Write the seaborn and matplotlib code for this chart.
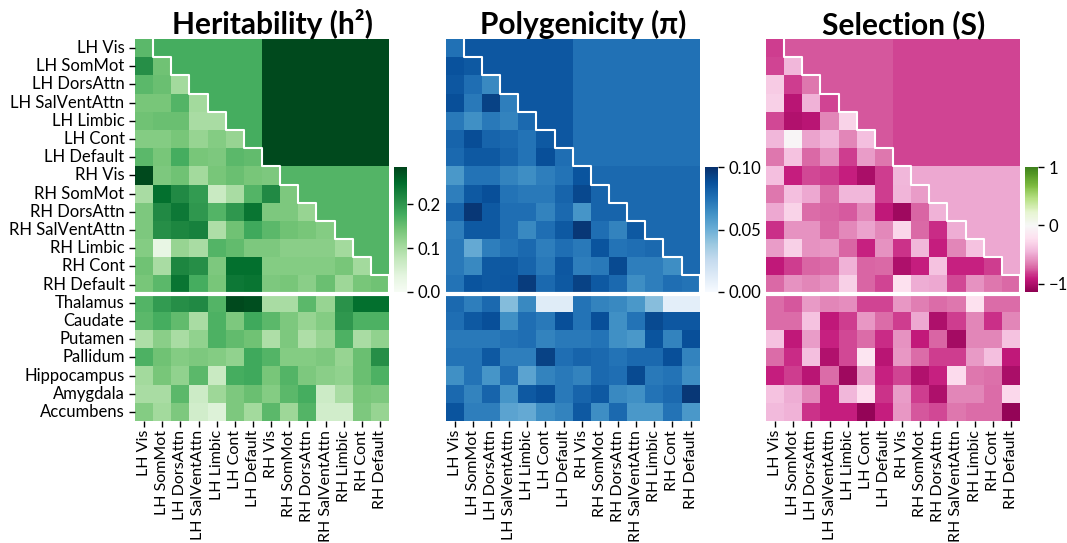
import numpy as np
import pandas as pd
import matplotlib
matplotlib.use("Agg")
import matplotlib.pyplot as plt
import seaborn as sns

plt.rcParams['font.family'] = ['Lato', 'DejaVu Sans']

networks = ['LH Vis', 'LH SomMot', 'LH DorsAttn', 'LH SalVentAttn', 'LH Limbic', 'LH Cont', 'LH Default',
            'RH Vis', 'RH SomMot', 'RH DorsAttn', 'RH SalVentAttn', 'RH Limbic', 'RH Cont', 'RH Default']
subcortex = ['Thalamus', 'Caudate', 'Putamen', 'Pallidum', 'Hippocampus', 'Amygdala', 'Accumbens']

# heritability: lower triangle of cortex x cortex (incl. diagonal)
h2_cortex = [
    [0.16],
    [0.21, 0.145],
    [0.16, 0.15, 0.105],
    [0.14, 0.14, 0.165, 0.105],
    [0.145, 0.15, 0.15, 0.10, 0.10],
    [0.13, 0.13, 0.14, 0.115, 0.13, 0.115],
    [0.16, 0.14, 0.175, 0.14, 0.135, 0.16, 0.155],
    [0.28, 0.135, 0.145, 0.105, 0.14, 0.15, 0.14, 0.135],
    [0.10, 0.245, 0.215, 0.195, 0.07, 0.10, 0.165, 0.215, 0.135],
    [0.135, 0.215, 0.235, 0.20, 0.165, 0.20, 0.24, 0.135, 0.135, 0.115],
    [0.135, 0.21, 0.22, 0.225, 0.095, 0.145, 0.18, 0.16, 0.145, 0.14, 0.13],
    [0.13, 0.03, 0.115, 0.10, 0.165, 0.155, 0.135, 0.135, 0.125, 0.125, 0.125, 0.105],
    [0.145, 0.10, 0.22, 0.21, 0.135, 0.245, 0.245, 0.13, 0.13, 0.13, 0.13, 0.14, 0.105],
    [0.14, 0.16, 0.24, 0.175, 0.14, 0.235, 0.24, 0.135, 0.14, 0.125, 0.15, 0.11, 0.14, 0.145],
]
h2_subcortex = [
    [0.165, 0.195, 0.21, 0.215, 0.165, 0.28, 0.275, 0.10, 0.10, 0.16, 0.115, 0.205, 0.245, 0.245],
    [0.16, 0.175, 0.155, 0.10, 0.17, 0.135, 0.18, 0.16, 0.135, 0.115, 0.13, 0.20, 0.17, 0.17],
    [0.095, 0.125, 0.10, 0.12, 0.17, 0.155, 0.145, 0.095, 0.135, 0.095, 0.115, 0.17, 0.10, 0.12],
    [0.17, 0.145, 0.13, 0.135, 0.13, 0.12, 0.18, 0.165, 0.13, 0.13, 0.135, 0.115, 0.15, 0.21],
    [0.105, 0.14, 0.12, 0.16, 0.07, 0.175, 0.18, 0.14, 0.165, 0.135, 0.125, 0.12, 0.15, 0.17],
    [0.10, 0.10, 0.16, 0.065, 0.11, 0.135, 0.15, 0.13, 0.16, 0.175, 0.065, 0.10, 0.14, 0.135],
    [0.13, 0.105, 0.135, 0.06, 0.045, 0.135, 0.105, 0.16, 0.11, 0.165, 0.06, 0.06, 0.135, 0.115],
]
h2_blocks = {'LL': 0.175, 'LR': 0.28, 'RR': 0.165}

# polygenicity
pi_cortex = [
    [0.075],
    [0.087, 0.084],
    [0.085, 0.076, 0.066],
    [0.088, 0.072, 0.093, 0.070],
    [0.072, 0.063, 0.072, 0.068, 0.078],
    [0.080, 0.089, 0.080, 0.078, 0.074, 0.084],
    [0.078, 0.084, 0.084, 0.080, 0.074, 0.088, 0.076],
    [0.060, 0.074, 0.074, 0.068, 0.064, 0.070, 0.074, 0.086],
    [0.070, 0.084, 0.088, 0.074, 0.072, 0.072, 0.080, 0.091, 0.080],
    [0.080, 0.097, 0.084, 0.076, 0.076, 0.068, 0.078, 0.061, 0.080, 0.080],
    [0.070, 0.084, 0.084, 0.076, 0.066, 0.076, 0.084, 0.097, 0.076, 0.068, 0.084],
    [0.072, 0.052, 0.070, 0.074, 0.078, 0.070, 0.076, 0.072, 0.086, 0.074, 0.076, 0.078],
    [0.072, 0.066, 0.084, 0.084, 0.080, 0.072, 0.085, 0.070, 0.072, 0.090, 0.070, 0.070, 0.064],
    [0.074, 0.086, 0.084, 0.085, 0.095, 0.078, 0.084, 0.093, 0.084, 0.078, 0.064, 0.070, 0.076, 0.074],
]
pi_subcortex = [
    [0.078, 0.070, 0.078, 0.044, 0.066, 0.012, 0.012, 0.074, 0.068, 0.066, 0.060, 0.043, 0.010, 0.010],
    [0.076, 0.084, 0.088, 0.063, 0.076, 0.072, 0.088, 0.074, 0.088, 0.063, 0.074, 0.090, 0.085, 0.085],
    [0.072, 0.072, 0.072, 0.074, 0.076, 0.068, 0.072, 0.072, 0.074, 0.063, 0.060, 0.086, 0.068, 0.088],
    [0.074, 0.074, 0.084, 0.070, 0.070, 0.093, 0.076, 0.080, 0.078, 0.074, 0.078, 0.078, 0.088, 0.068],
    [0.063, 0.074, 0.061, 0.076, 0.055, 0.068, 0.072, 0.068, 0.078, 0.076, 0.090, 0.072, 0.074, 0.064],
    [0.078, 0.068, 0.080, 0.061, 0.084, 0.088, 0.072, 0.080, 0.084, 0.066, 0.063, 0.074, 0.078, 0.097],
    [0.086, 0.070, 0.070, 0.055, 0.052, 0.064, 0.068, 0.084, 0.064, 0.078, 0.060, 0.060, 0.074, 0.060],
]
pi_blocks = {'LL': 0.085, 'LR': 0.075, 'RR': 0.078}

# selection
s_cortex = [
    [-0.82],
    [-0.80, -0.45],
    [-0.34, -0.82, -0.68],
    [-0.32, -0.95, -0.47, -0.80],
    [-0.79, -0.99, -0.95, -0.63, -0.30],
    [-0.45, -0.02, -0.52, -0.45, -0.63, -0.40],
    [-0.68, -0.38, -0.72, -0.58, -0.82, -0.54, -0.68],
    [-0.40, -0.90, -0.79, -0.82, -0.90, -1.02, -0.82, -0.45],
    [-0.68, -0.40, -0.50, -0.70, -0.45, -0.45, -0.82, -0.46, -0.54],
    [-0.50, -0.30, -0.70, -0.73, -0.75, -0.62, -0.93, -1.06, -0.73, -0.47],
    [-0.86, -0.58, -0.58, -0.72, -0.62, -0.52, -0.62, -0.28, -0.72, -0.87, -0.48],
    [-0.54, -0.32, -0.58, -0.57, -0.73, -0.89, -0.58, -0.84, -0.45, -0.90, -0.63, -0.38],
    [-0.93, -0.82, -0.73, -0.70, -0.47, -0.73, -0.72, -1.00, -0.90, -0.38, -0.89, -0.89, -0.82],
    [-0.72, -0.58, -0.63, -0.58, -0.32, -0.73, -0.80, -0.22, -0.48, -0.50, -0.79, -0.58, -0.68, -0.72],
]
s_subcortex = [
    [-0.70, -0.76, -0.55, -0.63, -0.60, -0.80, -0.80, -0.57, -0.65, -0.70, -0.68, -0.22, -0.70, -0.71],
    [-0.71, -0.71, -0.38, -0.93, -0.82, -0.57, -0.70, -0.82, -0.50, -1.00, -0.82, -0.63, -0.86, -0.63],
    [-0.38, -0.93, -0.54, -0.89, -0.79, -0.70, -0.87, -0.58, -0.92, -0.73, -1.04, -0.63, -0.63, -0.38],
    [-0.71, -0.87, -0.40, -0.99, -0.79, -0.18, -0.95, -0.57, -0.70, -0.82, -0.82, -0.55, -0.40, -0.93],
    [-0.90, -0.82, -0.95, -0.71, -1.06, -0.54, -0.89, -0.80, -0.99, -0.89, -0.25, -0.68, -0.69, -1.02],
    [-0.38, -0.48, -0.62, -0.90, -0.45, -0.23, -0.84, -0.54, -0.82, -1.00, -0.63, -0.63, -0.71, -0.27],
    [-0.43, -0.47, -0.84, -0.90, -0.90, -1.10, -0.90, -0.57, -0.76, -0.79, -0.68, -0.71, -0.71, -1.10],
]
s_blocks = {'LL': -0.76, 'LR': -0.80, 'RR': -0.50}


def build_matrix(lower, sub, blocks):
    n = len(lower)
    half = n // 2
    m = np.zeros((n, n))
    for i, row in enumerate(lower):
        m[i, :len(row)] = row
        for j in range(i + 1, n):
            if j < half:
                m[i, j] = blocks['LL']
            elif i < half:
                m[i, j] = blocks['LR']
            else:
                m[i, j] = blocks['RR']
    full = np.vstack([m, np.array(sub)])
    return pd.DataFrame(full, index=networks + subcortex, columns=networks)


panels = [
    (build_matrix(h2_cortex, h2_subcortex, h2_blocks), 'Heritability (h²)', 'Greens', 0, 0.285, None, [0, 0.1, 0.2], '{:.1f}'),
    (build_matrix(pi_cortex, pi_subcortex, pi_blocks), 'Polygenicity (π)', 'Blues', 0, 0.1, None, [0, 0.05, 0.1], '{:.2f}'),
    (build_matrix(s_cortex, s_subcortex, s_blocks), 'Selection (S)', 'PiYG', -1.14, 1, 0, [-1, 0, 1], '{:.0f}'),
]

fig = plt.figure(figsize=(10.67, 5.43), dpi=100)
W, H = 1067, 543
lefts = [135, 445.7, 766]

for k, (df, title, cmap, vmin, vmax, center, ticks, fmt) in enumerate(panels):
    x0 = lefts[k]
    ax = fig.add_axes([x0 / W, (H - 421) / H, 254 / W, 382 / H])
    cax = fig.add_axes([(x0 + 259) / W, (H - 292) / H, 13 / W, 125 / H])
    sns.heatmap(df, ax=ax, cbar_ax=cax, cmap=cmap, vmin=vmin, vmax=vmax, center=center,
                xticklabels=True, yticklabels=(k == 0),
                cbar_kws={'ticks': ticks})
    n = len(networks)
    # staircase along diagonal
    xs, ys = [1], [0]
    for c in range(1, n + 1):
        xs += [c, c + 1] if c < n else [c]
        ys += [c, c] if c < n else [c]
    ax.plot(xs, ys, color='white', lw=1.5, solid_capstyle='butt', clip_on=False)
    ax.axhline(n, color='white', lw=3)
    ax.set_title(title, fontsize=21.5, fontweight='bold', x=0.54, pad=3)
    ax.set_xlabel('')
    ax.set_ylabel('')
    ax.tick_params(axis='x', labelsize=11.5, rotation=90, length=4, width=1, pad=2.5)
    ax.tick_params(axis='y', labelsize=12, rotation=0, length=4, width=1)
    cax.tick_params(labelsize=12, length=4, width=1)
    cax.set_yticklabels([fmt.format(t).replace('-', '\u2212') for t in ticks])

fig.savefig('out.png', dpi=100)
